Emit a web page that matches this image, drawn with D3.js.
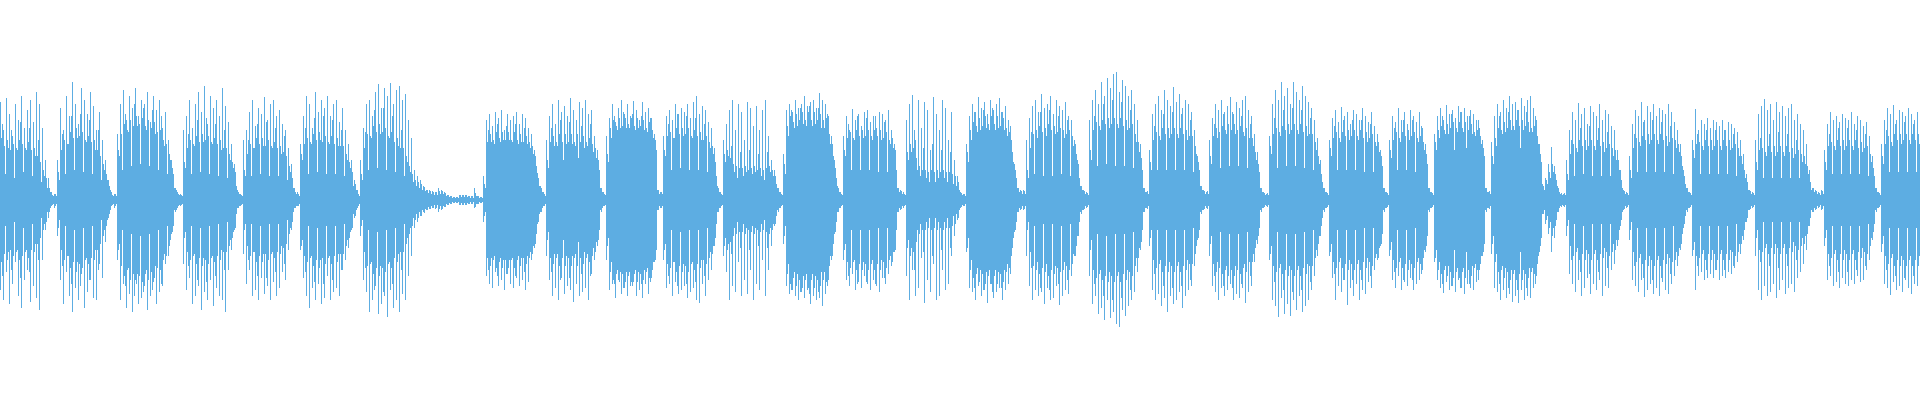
<!DOCTYPE html>
<html>
<head>
<meta charset="utf-8">
<script src="https://cdn.jsdelivr.net/npm/d3@7"></script>
<style>
body { margin: 0; background: #fff; }
svg { display: block; }
</style>
</head>
<body>
<svg width="1920" height="400"></svg>
<script>
// frame (1 frame = 3 px) where each syllable + following pause begins
const segmentStart = [0, 19, 39, 61, 81, 100, 120, 161, 182, 202, 221, 241, 261, 281, 302, 322,
	342, 363, 383, 403, 423, 443, 463, 478, 497, 522, 543, 564, 585, 608, 627];

// dense fill level of each frame, +/- amplitude (8-bit sample units)
const fillLevel = [
	[62,54,60,50,56,52,60,56,52,58,50,52,44,38,30,22,12,5,6],
	[28,50,60,56,68,62,72,64,68,60,64,58,60,50,44,36,26,14,5,6],
	[50,66,76,70,80,74,84,76,82,74,80,72,78,68,70,60,56,46,32,12,6,5],
	[38,52,60,56,64,58,66,60,64,58,62,56,60,52,52,46,38,28,8,5],
	[30,46,56,52,62,56,62,54,60,54,58,52,54,48,44,34,22,8,6],
	[46,56,62,58,66,60,68,58,64,58,64,56,62,54,54,46,38,28,16,6],
	[26,52,66,64,74,68,76,68,72,64,68,58,62,52,52,44,34,26,20,18,16,13,10,9,8,8,9,9,7,5,4,3,3,5,5,5,4,4,7,4,3],
	[16,58,66,60,68,62,68,60,68,60,68,60,66,58,64,58,54,44,22,12,6],
	[40,58,64,58,66,58,66,58,66,58,66,58,64,58,62,56,52,40,12,6],
	[46,72,80,74,82,74,82,76,82,74,82,74,80,72,78,70,60,10,8],
	[50,64,68,62,72,66,72,66,72,64,70,64,68,60,64,58,54,38,12,6],
	[46,50,42,36,34,32,32,34,30,32,34,30,32,30,32,34,30,24,12,6],
	[36,74,84,78,86,80,88,80,88,80,88,80,86,80,82,66,56,32,12,6],
	[50,62,68,62,70,64,70,64,70,64,70,64,70,62,68,60,62,50,12,9,6],
	[48,56,52,42,34,30,30,28,30,28,30,28,30,28,28,26,24,18,7,6],
	[48,70,78,74,82,74,84,76,84,76,84,74,82,72,68,48,30,12,9,9],
	[30,52,66,70,74,68,72,76,70,74,68,72,70,66,70,64,56,36,14,9,7],
	[50,70,78,74,80,76,82,76,82,76,82,74,80,72,76,66,58,42,12,9],
	[38,60,68,64,72,66,72,66,72,66,72,66,70,64,64,54,38,14,9,9],
	[44,64,72,68,74,70,76,70,76,70,74,68,72,62,62,48,36,12,7,7],
	[54,66,72,68,74,70,76,70,76,70,76,68,74,66,66,58,44,26,12,7],
	[52,62,68,62,68,64,70,64,70,64,70,62,68,62,66,58,58,44,12,7],
	[50,60,68,62,68,64,70,64,68,62,64,58,46,12,7],
	[58,70,74,70,76,72,78,72,78,72,78,70,76,68,70,64,52,12,9],
	[44,62,72,70,78,72,80,74,80,74,80,74,78,72,74,64,46,14,20,28,36,26,12,7,7],
	[26,46,56,52,60,54,60,54,60,54,60,54,58,52,56,52,50,40,20,9,7],
	[30,52,62,58,64,60,66,60,66,60,66,60,64,58,62,60,56,44,24,12,7],
	[50,56,58,54,60,54,60,54,60,54,60,54,60,52,56,52,44,30,18,9,7],
	[38,50,52,48,54,48,54,48,54,48,54,48,52,46,50,46,44,34,18,12,9,7,9],
	[38,54,58,54,60,54,60,54,60,54,60,52,58,52,54,46,32,12,7],
	[44,56,64,58,66,60,66,60,66,60,66,60,66]
];

// third column of each frame: sometimes a deep slit, sometimes a taller hair
const thirdLevel = [
	[76,26,52,70,22,50,78,28,50,72,24,44,60,18,24,12,8,4,4],
	[20,66,26,56,84,30,62,86,28,58,80,26,50,70,20,30,20,10,4,4],
	[44,30,86,68,34,96,74,36,92,70,34,90,66,30,84,54,26,40,26,10,5,4],
	[32,66,26,54,80,28,58,82,26,56,76,24,50,70,22,40,32,14,6,4],
	[24,60,24,52,76,26,54,78,24,52,72,24,46,64,20,28,12,6,4],
	[40,72,26,56,82,28,60,84,26,56,80,26,54,70,24,40,32,14,10,4],
	[20,68,30,62,90,32,66,92,30,62,84,28,54,70,24,38,28,18,14,12,10,9,7,6,5,5,6,6,4,3,2,2,2,3,3,3,2,2,4,2,2],
	[12,70,58,56,76,58,60,74,60,58,76,56,58,72,56,52,46,34,14,8,4],
	[32,72,54,54,80,40,56,78,56,54,42,74,52,54,76,48,42,30,8,5],
	[38,62,84,70,72,88,72,72,86,70,72,84,70,68,82,62,50,6,6],
	[44,76,30,62,86,32,64,84,30,62,82,30,60,76,28,52,46,24,8,5],
	[38,44,54,28,22,48,24,28,50,26,28,46,24,20,48,28,24,16,8,5],
	[26,64,90,72,74,92,76,74,94,74,76,92,72,72,86,56,44,22,8,5],
	[44,76,30,60,84,30,62,82,30,60,84,28,60,78,28,56,52,30,8,6,5],
	[40,48,70,30,24,52,22,18,56,18,22,50,22,18,48,16,14,10,5,4],
	[38,60,88,68,70,90,72,70,92,70,72,88,70,64,74,38,22,8,6,6],
	[22,68,26,62,88,24,64,90,24,66,84,26,62,80,24,54,46,22,10,6,5],
	[40,84,34,70,96,36,72,100,34,72,98,34,70,90,32,58,48,30,8,6],
	[30,74,30,60,86,30,62,88,30,62,86,30,60,80,28,46,30,10,6,6],
	[36,76,62,32,86,66,34,88,66,34,84,64,32,76,54,40,28,8,5,5],
	[46,82,32,64,90,34,66,92,34,66,90,32,64,82,30,50,36,18,8,5],
	[44,74,30,58,80,30,60,80,30,60,80,28,58,76,28,54,48,34,8,5],
	[42,72,30,58,80,30,60,80,28,58,74,50,36,8,5],
	[50,62,84,66,66,86,50,68,88,68,52,84,66,64,80,56,44,8,6],
	[36,54,84,66,68,88,70,70,90,52,70,88,68,68,84,56,38,10,16,22,28,20,8,5,5],
	[20,60,24,48,72,26,50,74,24,50,72,24,48,68,24,44,40,30,12,6,5],
	[22,66,28,54,78,28,56,80,28,56,78,28,54,74,26,52,48,34,16,8,5],
	[42,66,26,50,70,26,50,70,26,50,70,26,50,66,24,44,36,22,10,6,5],
	[30,62,22,44,66,22,44,68,22,44,66,22,42,60,22,38,36,26,10,8,6,5,6],
	[30,66,26,50,72,26,50,72,26,50,70,26,48,66,24,38,24,8,5],
	[36,70,28,54,76,28,56,78,28,56,76,28,56]
];

// positive peak of each frame
const peakUp = [
	[98,70,102,86,64,96,80,104,72,90,100,78,108,96,72,40,22,8,6],
	[40,92,70,104,84,118,96,76,112,100,86,108,94,70,88,60,40,20,8,6],
	[66,96,110,80,104,92,112,84,100,96,108,78,104,90,100,72,88,60,40,12,8,6],
	[70,84,100,72,96,108,88,114,76,104,92,100,84,112,94,78,56,36,10,6],
	[60,70,88,100,74,92,86,103,80,96,100,84,90,76,70,52,36,12,8],
	[56,84,104,96,72,108,88,100,92,104,84,96,100,78,92,70,56,40,20,10],
	[40,72,96,100,84,108,116,92,112,104,117,96,110,114,100,106,80,62,30,24,20,14,10,10,9,8,12,10,8,5,4,3,3,5,5,5,4,4,12,4,3],
	[24,80,86,74,88,82,90,70,86,80,84,88,76,86,82,72,66,50,27,14,8],
	[60,84,96,76,100,88,94,84,102,90,80,98,92,100,86,90,64,50,12,8],
	[64,82,96,78,92,100,86,96,84,99,90,80,98,88,92,82,66,10,8],
	[64,84,90,80,96,86,92,88,96,82,98,104,86,94,90,78,72,52,14,8],
	[60,76,90,100,70,96,88,60,98,92,74,94,70,90,100,64,40,30,12,8],
	[46,90,96,88,100,92,96,104,94,98,100,92,107,100,96,84,64,40,14,8],
	[64,84,70,91,80,86,74,88,90,78,84,72,88,86,80,90,70,56,12,10,8],
	[80,96,105,60,100,72,98,90,50,103,86,70,100,92,60,88,40,24,8,6],
	[56,84,96,88,103,92,98,86,100,90,96,102,88,94,80,60,36,12,10,10],
	[60,82,94,100,88,106,92,96,104,86,100,94,90,98,84,80,60,40,14,10,8],
	[80,100,110,96,118,104,122,112,126,128,108,120,114,104,110,96,80,56,12,8],
	[50,86,96,104,90,110,100,94,113,98,106,92,100,96,88,70,44,14,10,8],
	[60,82,96,90,100,88,94,103,86,98,92,100,104,90,84,66,48,12,8,6],
	[64,96,110,100,118,104,112,96,118,108,100,114,104,98,92,80,62,40,12,8],
	[60,82,90,78,93,84,88,76,90,86,80,92,84,78,88,74,66,50,12,8],
	[60,84,78,92,80,88,76,90,84,78,88,72,56,12,8],
	[66,84,92,80,95,86,90,82,94,88,92,84,90,86,80,72,60,12,8],
	[58,84,96,88,100,92,104,96,98,90,102,94,100,104,92,80,56,16,22,36,53,34,14,6,6],
	[40,70,88,80,97,86,92,76,94,88,84,96,80,90,86,74,70,50,30,10,8],
	[44,76,90,84,98,80,94,88,96,84,92,90,86,96,88,78,70,56,30,12,8],
	[60,91,70,80,76,82,72,80,78,74,80,70,78,76,72,68,60,46,26,10,8],
	[60,86,94,101,90,96,80,98,88,94,84,92,96,80,86,76,70,56,30,12,10,8,10],
	[50,76,88,80,84,78,86,82,80,88,76,84,80,74,78,64,44,12,8],
	[56,80,92,86,95,80,90,88,84,92,86,80,88]
];

// negative peak of each frame (magnitude)
const peakDown = [
	[90,100,72,104,84,62,96,108,80,70,102,86,98,110,60,30,18,6,8],
	[36,80,104,72,96,112,88,100,74,108,92,80,98,100,64,78,42,18,6,8],
	[60,100,84,108,94,112,80,104,98,86,110,96,82,104,92,86,64,56,34,10,8,6],
	[64,90,78,104,96,86,110,92,100,80,106,88,96,100,112,70,50,30,8,6],
	[54,84,70,96,90,100,78,94,86,100,82,96,88,72,80,50,30,8,6],
	[50,78,96,108,88,100,84,104,98,76,100,92,88,96,70,60,48,30,18,8],
	[36,80,92,112,100,86,114,104,96,117,90,108,100,112,94,100,76,56,28,22,16,12,10,9,8,9,12,10,7,5,4,3,3,5,5,5,4,4,8,4,3],
	[22,76,84,88,72,86,80,90,74,84,88,78,86,80,90,82,60,48,24,12,6],
	[56,80,96,88,100,78,94,86,90,102,84,96,92,88,100,74,60,46,10,6],
	[60,90,84,98,80,94,88,96,86,82,96,90,98,84,94,78,62,10,8],
	[60,88,84,96,82,94,90,86,98,92,88,100,103,84,96,80,70,46,12,8],
	[56,72,100,86,92,62,96,80,94,70,100,84,90,60,96,70,46,26,10,8],
	[44,86,94,90,96,100,92,98,90,104,96,100,98,106,94,80,60,34,12,8],
	[60,80,86,74,90,82,88,76,84,90,80,86,92,78,84,74,66,52,12,10,8],
	[76,100,70,96,88,58,103,80,92,64,100,96,70,90,84,56,36,20,8,6],
	[52,88,92,100,86,96,90,103,84,98,92,88,100,90,84,56,32,12,10,10],
	[56,86,100,90,96,92,104,88,100,98,86,105,96,90,94,76,56,36,12,10,8],
	[76,104,96,114,108,120,100,118,112,124,127,110,116,106,100,92,72,50,12,8],
	[46,90,100,94,106,98,112,96,104,100,92,108,96,90,86,66,40,12,10,8],
	[56,86,92,100,88,96,90,84,100,94,98,88,103,92,86,62,44,10,8,6],
	[60,100,106,117,98,114,104,116,100,110,96,112,106,100,90,76,56,36,10,8],
	[56,78,100,86,92,80,105,88,96,84,100,90,94,82,88,70,60,46,10,8],
	[56,80,88,76,90,82,86,78,90,84,80,70,52,10,8],
	[62,80,88,93,82,90,86,92,80,88,94,84,88,90,82,70,56,10,8],
	[54,88,92,100,90,98,94,102,96,103,90,100,96,98,88,76,52,14,24,34,52,38,12,6,6],
	[36,74,84,92,80,96,88,78,94,84,90,80,96,86,88,70,64,46,26,10,8],
	[40,80,86,92,80,97,90,84,94,88,96,82,90,94,84,76,66,50,28,10,8],
	[56,90,76,72,80,78,74,78,70,80,76,78,72,74,68,62,54,40,22,10,8],
	[56,90,100,86,96,92,84,98,90,80,94,88,84,92,78,72,64,50,26,12,10,8,10],
	[46,80,76,86,82,88,78,84,86,80,84,76,82,80,70,60,40,10,8],
	[52,84,88,95,82,90,86,92,80,88,94,84,86]
];

const totalFrames = 640;
const colour = '#5dade2';

const svg = d3.select('svg');
const width = +svg.attr('width');
const height = +svg.attr('height');

const x = d3.scaleLinear().domain([0, totalFrames]).range([0, width]);
const y = d3.scaleLinear().domain([-128, 128]).range([height / 2 + 128, height / 2 - 128]);

// each frame is three 1px columns: peak, fill, third
const columns = [];
segmentStart.forEach((start, k) => {
	fillLevel[k].forEach((fill, j) => {
		const f = start + j;
		columns.push({ px: x(f), top: peakUp[k][j], bottom: peakDown[k][j] });
		columns.push({ px: x(f) + 1, top: fill, bottom: fill });
		columns.push({ px: x(f) + 2, top: thirdLevel[k][j], bottom: thirdLevel[k][j] });
	});
});

svg.append('g')
	.attr('fill', colour)
	.attr('shape-rendering', 'crispEdges')
	.selectAll('rect')
	.data(columns)
	.join('rect')
	.attr('x', d => d.px)
	.attr('width', 1)
	.attr('y', d => y(d.top))
	.attr('height', d => Math.max(1, y(-d.bottom) - y(d.top)));
</script>
</body>
</html>
